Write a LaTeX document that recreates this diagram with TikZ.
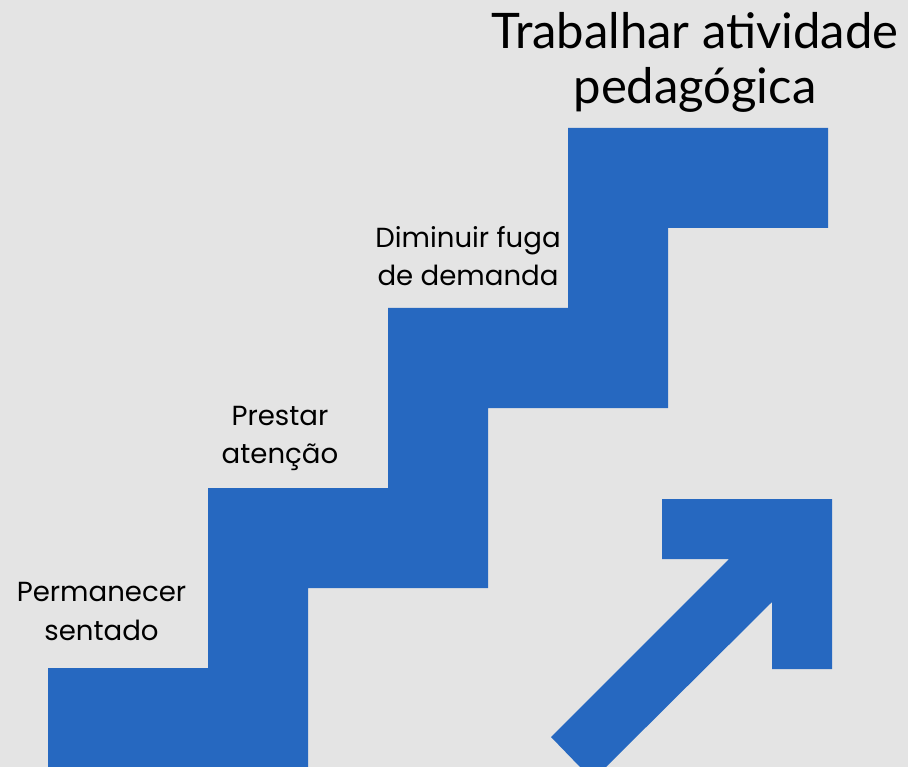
\documentclass[tikz,border=0pt]{standalone}
\usepackage{fontspec}
\setmainfont{Lato}
\newfontfamily\notefont{Poppins}
\usepackage{tikz}

\definecolor{stairblue}{RGB}{38,104,192}
\definecolor{paper}{RGB}{228,228,228}

\tikzset{
  stair/.style={fill=stairblue, draw=none},
  stepnote/.style={anchor=base, align=center, inner sep=0pt, text=black,
    font=\notefont\fontsize{27.6}{38.3}\selectfont},
  goalnote/.style={anchor=base, align=center, inner sep=0pt, text=black,
    font=\fontsize{49}{55}\selectfont}
}

\begin{document}
\begin{tikzpicture}[x=1pt, y=-1pt]
    % fundo
    \fill[paper] (0,0) rectangle (908,767);
    \useasboundingbox (0,0) rectangle (908,767);

    % escada
    \fill[stair] (48,767) -- (48,668) -- (208,668) -- (208,488) -- (388,488)
        -- (388,308) -- (568,308) -- (568,128) -- (828,128) -- (828,228)
        -- (668,228) -- (668,408) -- (488,408) -- (488,588) -- (308,588)
        -- (308,767) -- cycle;

    % seta
    \fill[stair] (551,737) -- (580,767) -- (606,767) -- (772,602) -- (772,669)
        -- (832,669) -- (832,499) -- (662,499) -- (662,559) -- (729,559) -- cycle;

    % degraus (ancorados na linha de base da segunda linha)
    \node[stepnote] (sentado) at (101.5,640) {Permanecer\\sentado};
    \node[stepnote] (atencao) at (280,463.3) {Prestar\\atenção};
    \node[stepnote] (fuga) at (468,286) {Diminuir fuga\\de demanda};

    % topo
    \node[goalnote] (atividade) at (695,103.3) {Trabalhar atividade\\pedagógica};
\end{tikzpicture}
\end{document}
